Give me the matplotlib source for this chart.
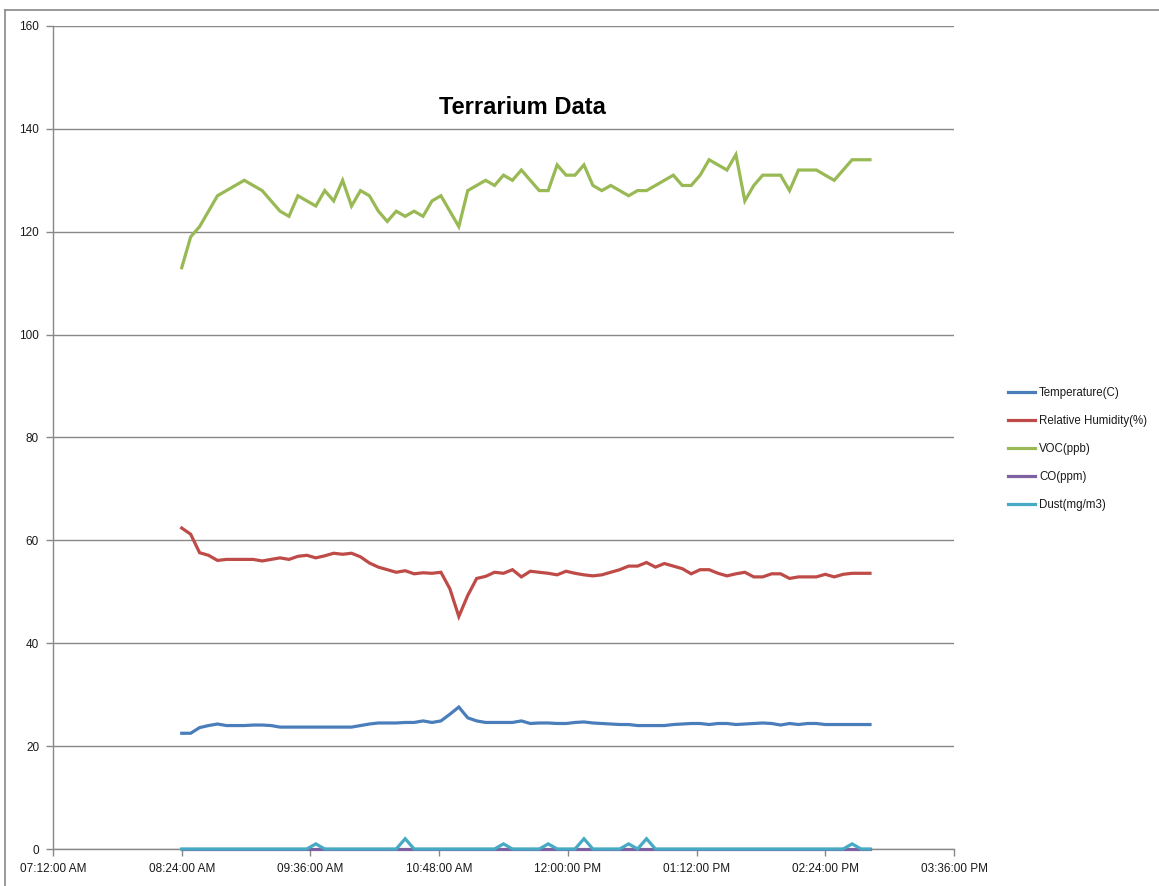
import pandas as pd
import matplotlib
matplotlib.use("Agg")
import matplotlib.pyplot as plt
import matplotlib.dates as mdates
from matplotlib.lines import Line2D

# Logger readings, one sample every 5 minutes starting 08:24
start_time = "2013-06-01 08:24:00"
sample_minutes = 5

temperature_c = [
    22.5, 22.5, 23.6, 24.0, 24.3, 24.0, 24.0, 24.0, 24.1, 24.1,
    24.0, 23.7, 23.7, 23.7, 23.7, 23.7, 23.7, 23.7, 23.7, 23.7,
    24.0, 24.3, 24.5, 24.5, 24.5, 24.6, 24.6, 24.9, 24.6, 24.9,
    26.2, 27.6, 25.5, 24.9, 24.6, 24.6, 24.6, 24.6, 24.9, 24.4,
    24.5, 24.5, 24.4, 24.4, 24.6, 24.7, 24.5, 24.4, 24.3, 24.2,
    24.2, 24.0, 24.0, 24.0, 24.0, 24.2, 24.3, 24.4, 24.4, 24.2,
    24.4, 24.4, 24.2, 24.3, 24.4, 24.5, 24.4, 24.1, 24.4, 24.2,
    24.4, 24.4, 24.2, 24.2, 24.2, 24.2, 24.2, 24.2,
]

humidity_pct = [
    62.4, 61.2, 57.6, 57.1, 56.1, 56.3, 56.3, 56.3, 56.3, 56.0,
    56.3, 56.6, 56.3, 56.9, 57.1, 56.6, 57.0, 57.5, 57.3, 57.5,
    56.8, 55.6, 54.8, 54.3, 53.8, 54.1, 53.5, 53.7, 53.6, 53.8,
    50.6, 45.2, 49.3, 52.6, 53.0, 53.8, 53.6, 54.3, 52.9, 54.0,
    53.8, 53.6, 53.3, 54.0, 53.6, 53.3, 53.1, 53.3, 53.8, 54.3,
    55.0, 55.0, 55.7, 54.8, 55.5, 55.0, 54.5, 53.5, 54.3, 54.3,
    53.6, 53.1, 53.5, 53.8, 52.9, 52.9, 53.5, 53.5, 52.6, 52.9,
    52.9, 52.9, 53.4, 52.9, 53.4, 53.6, 53.6, 53.6,
]

voc_ppb = [
    113, 119, 121, 124, 127, 128, 129, 130, 129, 128,
    126, 124, 123, 127, 126, 125, 128, 126, 130, 125,
    128, 127, 124, 122, 124, 123, 124, 123, 126, 127,
    124, 121, 128, 129, 130, 129, 131, 130, 132, 130,
    128, 128, 133, 131, 131, 133, 129, 128, 129, 128,
    127, 128, 128, 129, 130, 131, 129, 129, 131, 134,
    133, 132, 135, 126, 129, 131, 131, 131, 128, 132,
    132, 132, 131, 130, 132, 134, 134, 134,
]

co_ppm = [
    0, 0, 0, 0, 0, 0, 0, 0, 0, 0,
    0, 0, 0, 0, 0, 0, 0, 0, 0, 0,
    0, 0, 0, 0, 0, 0, 0, 0, 0, 0,
    0, 0, 0, 0, 0, 0, 0, 0, 0, 0,
    0, 0, 0, 0, 0, 0, 0, 0, 0, 0,
    0, 0, 0, 0, 0, 0, 0, 0, 0, 0,
    0, 0, 0, 0, 0, 0, 0, 0, 0, 0,
    0, 0, 0, 0, 0, 0, 0, 0,
]

dust_mg_m3 = [
    0, 0, 0, 0, 0, 0, 0, 0, 0, 0,
    0, 0, 0, 0, 0, 1, 0, 0, 0, 0,
    0, 0, 0, 0, 0, 2, 0, 0, 0, 0,
    0, 0, 0, 0, 0, 0, 1, 0, 0, 0,
    0, 1, 0, 0, 0, 2, 0, 0, 0, 0,
    1, 0, 2, 0, 0, 0, 0, 0, 0, 0,
    0, 0, 0, 0, 0, 0, 0, 0, 0, 0,
    0, 0, 0, 0, 0, 1, 0, 0,
]

series_labels = ["Temperature(C)", "Relative Humidity(%)", "VOC(ppb)", "CO(ppm)", "Dust(mg/m3)"]
series_colors = ["#4A7EBB", "#BE4B48", "#98B954", "#7D60A0", "#46AAC5"]

GRID = "#888888"
TEXT = "#1a1a1a"


def build_frame():
    """Put all readings in one table indexed by sample time."""
    times = pd.date_range(start_time, periods=len(voc_ppb), freq=f"{sample_minutes}min")
    return pd.DataFrame({
        series_labels[0]: temperature_c,
        series_labels[1]: humidity_pct,
        series_labels[2]: voc_ppb,
        series_labels[3]: co_ppm,
        series_labels[4]: dust_mg_m3,
    }, index=times)


def plot_terrarium(df):
    fig = plt.figure(figsize=(11.59, 8.86), dpi=100)
    ax = fig.add_axes([53 / 1159, 37 / 886, (954 - 53) / 1159, (849 - 26) / 886])

    # outer chart border (runs off the right and bottom edges)
    fig.add_artist(Line2D([5 / 1159, 1], [1 - 9.5 / 886] * 2, transform=fig.transFigure,
                          color=GRID, lw=1.2))
    fig.add_artist(Line2D([5 / 1159] * 2, [0, 1 - 9.5 / 886], transform=fig.transFigure,
                          color=GRID, lw=1.2))

    for label, color in zip(series_labels, series_colors):
        ax.plot(df.index, df[label], color=color, lw=2.3, label=label,
                clip_on=False, solid_joinstyle="miter", zorder=3)

    day = df.index[0].normalize()
    ax.set_xlim(day + pd.Timedelta(hours=7, minutes=12), day + pd.Timedelta(hours=15, minutes=36))
    ax.set_ylim(0, 160)
    ax.set_yticks(range(0, 161, 20))
    ticks = pd.date_range(day + pd.Timedelta(hours=7, minutes=12), periods=8, freq="72min")
    ax.set_xticks(ticks)
    ax.xaxis.set_major_formatter(mdates.DateFormatter("%I:%M:%S %p"))

    ax.grid(axis="y", color=GRID, lw=1.0)
    ax.set_axisbelow(True)
    for side in ["top", "right"]:
        ax.spines[side].set_visible(False)
    for side in ["left", "bottom"]:
        ax.spines[side].set_color(GRID)
        ax.spines[side].set_linewidth(1.0)
    ax.tick_params(axis="both", colors=GRID, length=5, width=1.0, labelcolor=TEXT,
                   labelsize=8.5, pad=5)
    for lbl in ax.get_xticklabels() + ax.get_yticklabels():
        lbl.set_fontfamily(["Liberation Sans", "DejaVu Sans"])

    fig.text(522 / 1159, 1 - 107 / 886, "Terrarium Data", ha="center", va="center",
             fontsize=17, fontweight="bold", color="black",
             family=["Liberation Sans Narrow", "Liberation Sans", "DejaVu Sans"])

    leg = fig.legend(loc="upper left", bbox_to_anchor=(1008 / 1159, 1 - 387 / 886),
                     frameon=False, handlelength=2.3, handletextpad=0.4,
                     labelspacing=1.38, borderaxespad=0, borderpad=0,
                     prop={"family": ["Liberation Sans", "DejaVu Sans"], "size": 8.3})
    for text in leg.get_texts():
        text.set_color(TEXT)

    fig.savefig("out.png", dpi=100)


if __name__ == "__main__":
    plot_terrarium(build_frame())
